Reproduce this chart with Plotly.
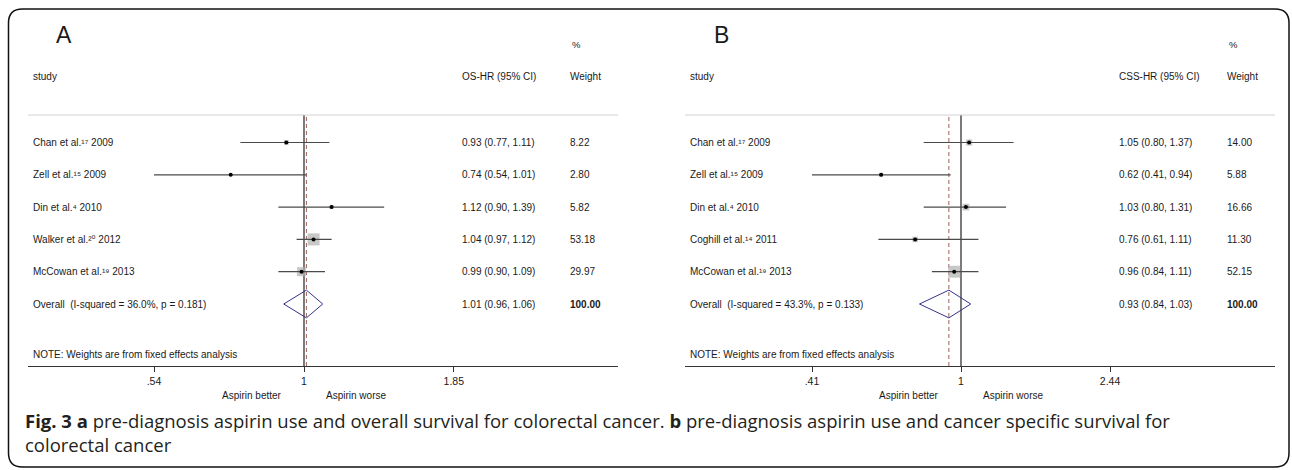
import math
import plotly.graph_objects as go

# ---------------- data ----------------
studies_a = ["Chan et al.¹⁷ 2009", "Zell et al.¹⁵ 2009", "Din et al.⁴ 2010",
             "Walker et al.²⁰ 2012", "McCowan et al.¹⁹ 2013"]
hr_a = [0.93, 0.74, 1.12, 1.04, 0.99]
lo_a = [0.77, 0.54, 0.90, 0.97, 0.90]
hi_a = [1.11, 1.01, 1.39, 1.12, 1.09]
wt_a = [8.22, 2.80, 5.82, 53.18, 29.97]
overall_a = (1.01, 0.96, 1.06)
diamond_a = (0.92, 1.08)          # drawn extent of the pooled diamond
overall_label_a = "Overall  (I-squared = 36.0%, p = 0.181)"
ticks_a = [0.54, 1, 1.85]
ticktext_a = [".54", "1", "1.85"]

studies_b = ["Chan et al.¹⁷ 2009", "Zell et al.¹⁵ 2009", "Din et al.⁴ 2010",
             "Coghill et al.¹⁴ 2011", "McCowan et al.¹⁹ 2013"]
hr_b = [1.05, 0.62, 1.03, 0.76, 0.96]
lo_b = [0.80, 0.41, 0.80, 0.61, 0.84]
hi_b = [1.37, 0.94, 1.31, 1.11, 1.11]
wt_b = [14.00, 5.88, 16.66, 11.30, 52.15]
overall_b = (0.93, 0.84, 1.03)
diamond_b = (0.78, 1.06)
overall_label_b = "Overall  (I-squared = 43.3%, p = 0.133)"
ticks_b = [0.41, 1, 2.44]
ticktext_b = [".41", "1", "2.44"]

# ---------------- layout constants (pixels) ----------------
W, H = 1292, 470
FONT = "Liberation Sans, Arial, DejaVu Sans, sans-serif"
TXT = "#1a1a1a"
FS = 10

def px(x):
    return x / W

def py(y):
    return 1 - y / H

TOP_PX, AXIS_PX = 115, 366
ROW0_PX, ROW_STEP = 142.5, 32.3
y_range = [(AXIS_PX - ROW0_PX) / ROW_STEP, (TOP_PX - ROW0_PX) / ROW_STEP]

panels = [
    dict(name="A", studies=studies_a, hr=hr_a, lo=lo_a, hi=hi_a, wt=wt_a, ov=overall_a, dia=diamond_a,
         ovlabel=overall_label_a, ticks=ticks_a, ticktext=ticktext_a, hdr="OS-HR (95% CI)",
         off=0, center=304, tickpx=154, xa="x", ya="y"),
    dict(name="B", studies=studies_b, hr=hr_b, lo=lo_b, hi=hi_b, wt=wt_b, ov=overall_b, dia=diamond_b,
         ovlabel=overall_label_b, ticks=ticks_b, ticktext=ticktext_b, hdr="CSS-HR (95% CI)",
         off=657, center=961, tickpx=812, xa="x2", ya="y2"),
]

fig = go.Figure()
annotations = []
shapes = []
layout_axes = {}

def ann(text, x, y, xref="paper", yref="paper", size=FS, xanchor="left", **kw):
    annotations.append(dict(text=text, x=x, y=y, xref=xref, yref=yref, showarrow=False,
                            xanchor=xanchor, yanchor="middle",
                            font=dict(family=FONT, size=size, color=TXT), **kw))

TEXT_L = 31
for i, p in enumerate(panels):
    off = p["off"]
    left_px, right_px = 28 + off, 618 + off
    ppl = (p["center"] - p["tickpx"]) / -math.log(p["ticks"][0])  # pixels per ln unit
    lo_r = (left_px - p["center"]) / ppl / math.log(10)
    hi_r = (right_px - p["center"]) / ppl / math.log(10)
    sfx = "" if i == 0 else "2"
    layout_axes["xaxis" + sfx] = dict(
        type="log", domain=[px(left_px), px(right_px)], range=[lo_r, hi_r],
        anchor="y" + sfx, tickvals=p["ticks"], ticktext=p["ticktext"], ticks="outside",
        ticklen=5, tickcolor="#333", showline=True, linecolor="#333", linewidth=1,
        showgrid=False, zeroline=False, tickfont=dict(family=FONT, size=10.5, color=TXT),
        fixedrange=True)
    layout_axes["yaxis" + sfx] = dict(
        domain=[py(AXIS_PX), py(TOP_PX)], range=y_range, anchor="x" + sfx, visible=False,
        showgrid=False, zeroline=False, fixedrange=True)
    xa, ya = p["xa"], p["ya"]
    n = len(p["studies"])
    rows = list(range(n))

    # top separator line
    shapes.append(dict(type="line", xref=xa + " domain", yref=ya + " domain", x0=0, x1=1, y0=1, y1=1,
                       line=dict(color="#d2d2d2", width=1)))

    # reference line at 1 and dashed line at overall estimate
    fig.add_trace(go.Scatter(x=[1, 1], y=y_range, xaxis=xa, yaxis=ya, mode="lines",
                             line=dict(color="#222", width=1.2), hoverinfo="skip", showlegend=False))
    fig.add_trace(go.Scatter(x=[p["ov"][0]] * 2, y=y_range, xaxis=xa, yaxis=ya, mode="lines",
                             line=dict(color="#a0605a", width=1, dash="4px,3px"), hoverinfo="skip",
                             showlegend=False))

    # weight squares
    fig.add_trace(go.Scatter(x=p["hr"], y=rows, xaxis=xa, yaxis=ya, mode="markers",
                             marker=dict(symbol="square", color="#b0b0b0",
                                         size=[1.65 * math.sqrt(w) for w in p["wt"]], line=dict(width=0)),
                             hoverinfo="skip", showlegend=False))
    # CI lines
    cx, cy = [], []
    for r, l, h in zip(rows, p["lo"], p["hi"]):
        cx += [l, h, None]
        cy += [r, r, None]
    fig.add_trace(go.Scatter(x=cx, y=cy, xaxis=xa, yaxis=ya, mode="lines",
                             line=dict(color="#4a4a4a", width=1.2), hoverinfo="skip", showlegend=False))
    # point estimates
    fig.add_trace(go.Scatter(x=p["hr"], y=rows, xaxis=xa, yaxis=ya, mode="markers",
                             marker=dict(symbol="circle", color="#000", size=4),
                             hoverinfo="skip", showlegend=False))
    # overall diamond
    est, ol, oh = p["ov"]
    dl, dh = p["dia"]
    hh = 0.43
    fig.add_trace(go.Scatter(x=[dl, est, dh, est, dl], y=[n, n - hh, n, n + hh, n], xaxis=xa, yaxis=ya,
                             mode="lines", line=dict(color="#33338a", width=1),
                             hoverinfo="skip", showlegend=False))

    # texts
    ann(p["name"], px(64 + off), py(35), size=23, xanchor="center")
    ann("%", px(570 + off), py(44), size=9.5)
    ann("study", px(TEXT_L + off), py(77))
    ann(p["hdr"], px(460 + off), py(77))
    ann("Weight", px(568 + off), py(77))
    for r, s, hr, l, h, w in zip(rows, p["studies"], p["hr"], p["lo"], p["hi"], p["wt"]):
        ann(s, px(TEXT_L + off), r, yref=ya)
        ann(f"{hr:.2f} ({l:.2f}, {h:.2f})", px(460 + off), r, yref=ya)
        ann(f"{w:.2f}", px(568 + off), r, yref=ya)
    ann(p["ovlabel"], px(TEXT_L + off), n, yref=ya)
    ann(f"{est:.2f} ({ol:.2f}, {oh:.2f})", px(460 + off), n, yref=ya)
    ann("<b>100.00</b>", px(568 + off), n, yref=ya)
    ann("NOTE: Weights are from fixed effects analysis", px(TEXT_L + off), py(354))
    ann("Aspirin better", 0, py(395), xref=xa, xanchor="center", xshift=-52)
    ann("Aspirin worse", 0, py(395), xref=xa, xanchor="center", xshift=52)

# caption
CAP_FONT = "Open Sans, Noto Sans, sans-serif"
CAP_FS = 18.5
annotations.append(dict(
    text="<b>Fig. 3 a</b> pre-diagnosis aspirin use and overall survival for colorectal cancer. "
         "<b>b</b> pre-diagnosis aspirin use and cancer specific survival for",
    x=px(23), y=py(420), xref="paper", yref="paper", showarrow=False, xanchor="left", yanchor="middle",
    font=dict(family=CAP_FONT, size=CAP_FS, color="#231f20")))
annotations.append(dict(
    text="colorectal cancer", x=px(23), y=py(444), xref="paper", yref="paper", showarrow=False,
    xanchor="left", yanchor="middle", font=dict(family=CAP_FONT, size=CAP_FS, color="#231f20")))

# rounded border
bx0, by0, bx1, by1, r = 8.5, 9, 1289, 467, 14
def P(x, y):
    return f"{px(x):.5f},{py(y):.5f}"
path = (f"M {P(bx0 + r, by0)} L {P(bx1 - r, by0)} Q {P(bx1, by0)} {P(bx1, by0 + r)} "
        f"L {P(bx1, by1 - r)} Q {P(bx1, by1)} {P(bx1 - r, by1)} "
        f"L {P(bx0 + r, by1)} Q {P(bx0, by1)} {P(bx0, by1 - r)} "
        f"L {P(bx0, by0 + r)} Q {P(bx0, by0)} {P(bx0 + r, by0)} Z")
shapes.append(dict(type="path", xref="paper", yref="paper", path=path, line=dict(color="#111", width=1.5)))

fig.update_layout(width=W, height=H, margin=dict(l=0, r=0, t=0, b=0), paper_bgcolor="white",
                  plot_bgcolor="white", showlegend=False, annotations=annotations, shapes=shapes,
                  **layout_axes)
fig.write_html("out.html", config={"displayModeBar": False},
               post_script="document.body.style.margin='0';")
